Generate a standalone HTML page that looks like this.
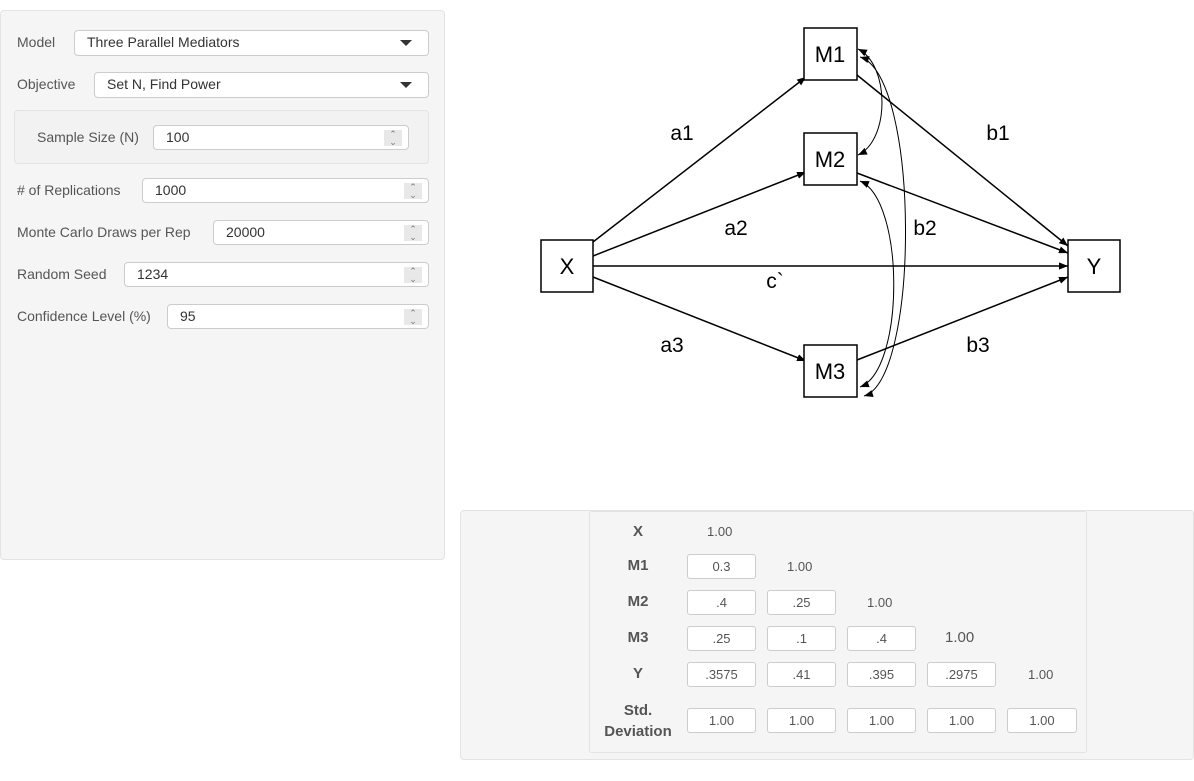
<!DOCTYPE html>
<html><head><meta charset="utf-8"><style>
body{margin:0;width:1194px;height:781px;background:#fff;font-family:"Liberation Sans",sans-serif;position:relative;overflow:hidden;color:#333}
.a{position:absolute;box-sizing:border-box}
.lbl{position:absolute;font-size:14px;color:#555}
.inp{position:absolute;box-sizing:border-box;background:#fff;border:1px solid #ccc;border-radius:4px;font-size:14px;color:#333;padding-left:12px;line-height:23px}
.sp{position:absolute;right:6px;top:4px;width:18px;height:16px;background:#e8e8e8;font-size:9px;line-height:8px;text-align:center;color:#777}
.car{position:absolute;right:16px;top:9px;border-left:6px solid transparent;border-right:6px solid transparent;border-top:6px solid #333}
.rl{position:absolute;width:98px;left:589px;text-align:center;font-weight:bold;font-size:15px;color:#555}
.ci{position:absolute;box-sizing:border-box;width:69px;height:25px;background:#fff;border:1px solid #ccc;border-radius:3px;font-size:13px;color:#555;text-align:center;line-height:23px}
.dv{position:absolute;font-size:13px;color:#555}
</style></head><body>
<div class="a" style="left:0;top:10px;width:445px;height:550px;background:#f5f5f5;border:1px solid #e3e3e3;border-radius:4px"></div>
<div class="lbl" style="left:17px;top:34px">Model</div>
<div class="inp" style="left:74px;top:30px;width:355px;height:26px">Three Parallel Mediators<div class="car"></div></div>
<div class="lbl" style="left:17px;top:76px">Objective</div>
<div class="inp" style="left:94px;top:72px;width:335px;height:26px">Set N, Find Power<div class="car"></div></div>
<div class="a" style="left:14px;top:110px;width:415px;height:54px;background:#f2f2f2;border:1px solid #e3e3e3;border-radius:4px"></div>
<div class="lbl" style="left:37px;top:129px">Sample Size (N)</div>
<div class="inp" style="left:153px;top:125px;width:256px;height:25px">100<div class="sp">⌃<br>⌄</div></div>
<div class="lbl" style="left:17px;top:182px"># of Replications</div>
<div class="inp" style="left:142px;top:178px;width:287px;height:25px">1000<div class="sp">⌃<br>⌄</div></div>
<div class="lbl" style="left:17px;top:224px">Monte Carlo Draws per Rep</div>
<div class="inp" style="left:213px;top:220px;width:216px;height:25px">20000<div class="sp">⌃<br>⌄</div></div>
<div class="lbl" style="left:17px;top:266px">Random Seed</div>
<div class="inp" style="left:124px;top:262px;width:305px;height:25px">1234<div class="sp">⌃<br>⌄</div></div>
<div class="lbl" style="left:17px;top:308px">Confidence Level (%)</div>
<div class="inp" style="left:167px;top:304px;width:262px;height:25px">95<div class="sp">⌃<br>⌄</div></div>

<svg class="a" style="left:0;top:0" width="1194" height="500">
<defs><marker id="ar" viewBox="0 0 10 10" refX="10" refY="5" markerWidth="9" markerHeight="9" orient="auto-start-reverse" markerUnits="userSpaceOnUse"><path d="M0,1 L10,5 L0,9z" fill="#000"/></marker></defs>
<g stroke="#000" stroke-width="1.5" fill="none">
<line x1="593" y1="242" x2="806" y2="77" marker-end="url(#ar)"/>
<line x1="593" y1="256" x2="806" y2="172" marker-end="url(#ar)"/>
<line x1="593" y1="266" x2="1068" y2="266" marker-end="url(#ar)"/>
<line x1="593" y1="277" x2="806" y2="361" marker-end="url(#ar)"/>
<line x1="857" y1="75" x2="1068" y2="246" marker-end="url(#ar)"/>
<line x1="857" y1="173" x2="1068" y2="253" marker-end="url(#ar)"/>
<line x1="857" y1="360" x2="1068" y2="277" marker-end="url(#ar)"/>
</g>
<g stroke="#000" stroke-width="1" fill="none">
<path d="M858,49 C890,65 890,140 858,155" marker-start="url(#ar)" marker-end="url(#ar)"/>
<path d="M860,181 C905,200 905,370 860,387" marker-start="url(#ar)" marker-end="url(#ar)"/>
<path d="M860,57 C920,75 920,380 864,396" marker-start="url(#ar)" marker-end="url(#ar)"/>
</g>
<g stroke="#000" stroke-width="1.5" fill="#fff">
<rect x="541" y="240" width="52" height="52"/>
<rect x="804" y="28" width="53" height="52"/>
<rect x="804" y="133" width="53" height="52"/>
<rect x="804" y="345" width="53" height="52"/>
<rect x="1068" y="240" width="52" height="52"/>
</g>
<g font-family="Liberation Sans,sans-serif" font-size="22" text-anchor="middle" fill="#000">
<text x="567" y="274">X</text><text x="830" y="62">M1</text><text x="830" y="167">M2</text><text x="830" y="379">M3</text><text x="1094" y="274">Y</text>
<text font-size="21" x="682" y="140">a1</text><text font-size="21" x="998" y="140">b1</text>
<text font-size="21" x="736" y="235">a2</text><text font-size="21" x="925" y="235">b2</text>
<text font-size="21" x="775" y="288">c`</text>
<text font-size="21" x="672" y="352">a3</text><text font-size="21" x="978" y="352">b3</text>
</g>
</svg>

<div class="a" style="left:460px;top:510px;width:734px;height:250px;background:#f5f5f5;border:1px solid #e3e3e3;border-radius:4px"></div>
<div class="a" style="left:589px;top:511px;width:498px;height:242px;background:#f5f5f5;border:1px solid #e3e3e3;border-radius:3px"></div>
<div class="rl" style="top:523px">X</div>
<div class="rl" style="top:557px">M1</div>
<div class="rl" style="top:593px">M2</div>
<div class="rl" style="top:629px">M3</div>
<div class="rl" style="top:665px">Y</div>
<div class="rl" style="top:700px;line-height:21px">Std.<br>Deviation</div>
<div class="dv" style="left:707px;top:524px">1.00</div>
<div class="ci" style="left:687px;top:554px">0.3</div>
<div class="dv" style="left:787px;top:559px">1.00</div>
<div class="ci" style="left:687px;top:590px">.4</div>
<div class="ci" style="left:767px;top:590px">.25</div>
<div class="dv" style="left:867px;top:595px">1.00</div>
<div class="ci" style="left:687px;top:626px">.25</div>
<div class="ci" style="left:767px;top:626px">.1</div>
<div class="ci" style="left:847px;top:626px">.4</div>
<div class="dv" style="left:945px;top:629px;font-size:15px">1.00</div>
<div class="ci" style="left:687px;top:662px">.3575</div>
<div class="ci" style="left:767px;top:662px">.41</div>
<div class="ci" style="left:847px;top:662px">.395</div>
<div class="ci" style="left:927px;top:662px">.2975</div>
<div class="dv" style="left:1028px;top:667px">1.00</div>
<div class="ci" style="left:687px;top:708px">1.00</div>
<div class="ci" style="left:767px;top:708px">1.00</div>
<div class="ci" style="left:847px;top:708px">1.00</div>
<div class="ci" style="left:927px;top:708px">1.00</div>
<div class="ci" style="left:1007px;top:708px;width:70px">1.00</div>
</body></html>
